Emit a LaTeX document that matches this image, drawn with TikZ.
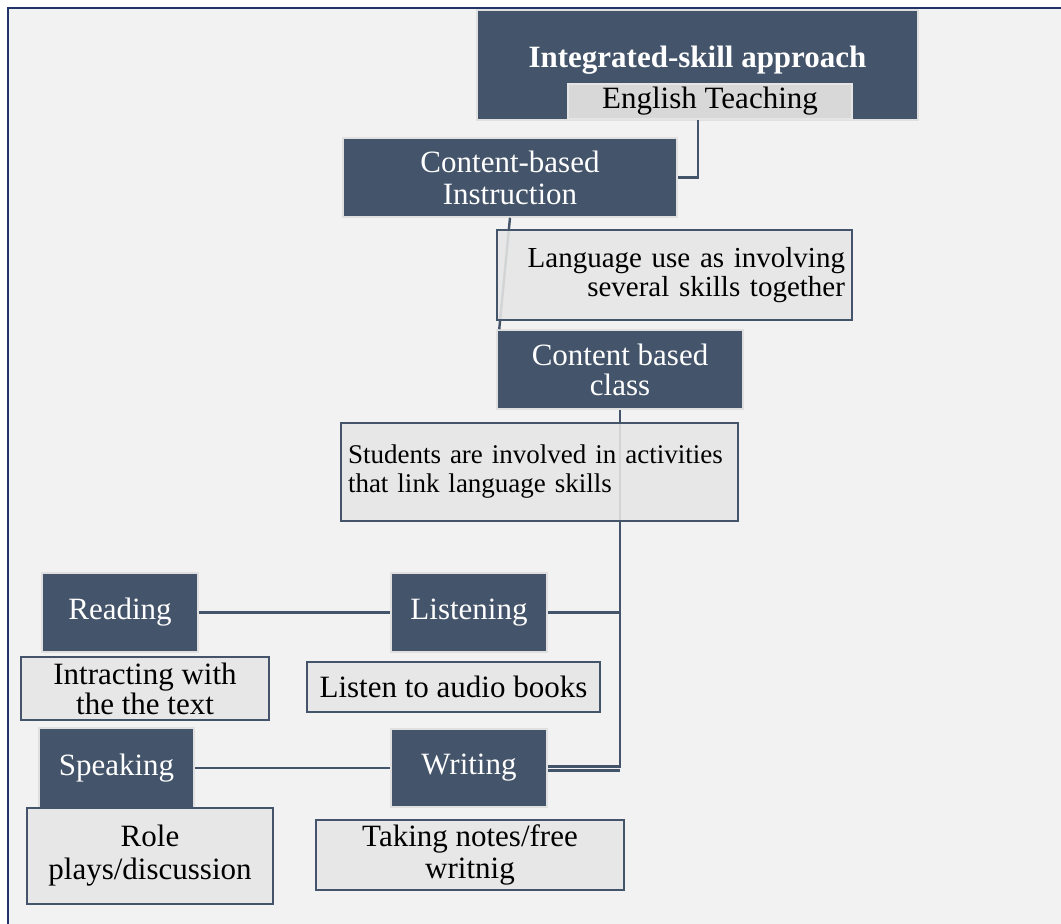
\documentclass[tikz,border=0pt]{standalone}
\usepackage{fontspec}
\setmainfont{Liberation Serif}
\definecolor{slate}{RGB}{68,84,106}
\definecolor{paper}{RGB}{242,242,242}
\definecolor{panel}{RGB}{230,230,230}
\definecolor{tag}{RGB}{216,216,216}
\definecolor{navy}{RGB}{31,52,104}
\tikzset{
  darkbox/.style={draw=black!12, line width=1.5pt, fill=slate, text=white,
    inner sep=0pt, align=center, font=\fontsize{31}{32}\selectfont},
  lightbox/.style={draw=slate, line width=1.8pt, fill=panel, fill opacity=0.88,
    text opacity=1, text=black, inner sep=0pt, align=center,
    font=\fontsize{31}{32}\selectfont},
  link/.style={draw=slate, line width=2.4pt},
  box/.style n args={2}{minimum width=#1pt, minimum height=#2pt}
}
\begin{document}
\begin{tikzpicture}[x=1pt,y=-1pt]
  % page and its framed panel
  \useasboundingbox (0,0) rectangle (1061,924);
  \fill[white] (0,0) rectangle (1061,924);
  \fill[paper] (8,8) rectangle (1061,924);
  \draw[navy, line width=2.2pt] (1061,8) -- (8,8) -- (8,924);

  % heading
  \node[darkbox, box={441}{110}] (ita) at (697.5,65)
    {\raisebox{16pt}{\textbf{Integrated-skill approach}}};
  \node[draw=black!10, line width=1.5pt, fill=tag, inner sep=0pt,
    font=\fontsize{31}{31}\selectfont, box={284}{35}] (et) at (710,101.5) {English Teaching};

  % first level
  \node[darkbox, box={334}{79}] (cbi) at (510,177.5) {Content-based\\Instruction};
  \draw[link] ([xshift=-12pt]et.south) |- (cbi.east);

  \node[darkbox, box={246}{79}, font=\fontsize{31}{30}\selectfont] (cbc) at (620,369.5)
    {Content based\\class};
  \draw[link] (cbi.south) -- ([xshift=3pt]cbc.north west);
  \node[lightbox, box={355}{90}, align=right, text width=341pt,
    font=\fontsize{29}{29}\selectfont] (lang) at (674.5,275)
    {Language use as involving\\several skills together};

  % trunk down to the four skills
  \coordinate (trunk) at (cbc.south);
  \node[darkbox, box={156}{79}] (lis) at (469,612.5) {Listening};
  \node[darkbox, box={156}{78}] (wri) at (469,768) {Writing};
  \draw[link] (trunk) |- ([yshift=1.5pt]wri.east);
  \draw[link] ([yshift=-2.5pt]wri.east) -- ([yshift=-2.5pt]wri.east -| trunk);
  \draw[link] (lis.east) -- (lis.east -| trunk);
  \node[lightbox, box={397}{98}, align=left, text width=383pt,
    font=\fontsize{27}{29}\selectfont] (stu) at (539.5,472)
    {Students are involved in activities\\that link language skills};

  % skills
  \node[darkbox, box={156}{79}] (rea) at (120,612.5) {Reading};
  \node[darkbox, box={155}{80}] (spk) at (116.5,768) {Speaking};
  \draw[link] (rea.east) -- (lis.west);
  \draw[link] (spk.east) -- (wri.west);

  % activities
  \node[lightbox, box={248}{63}, font=\fontsize{31}{30}\selectfont] (rea-act) at (145,688.5)
    {Intracting with\\the the text};
  \node[lightbox, box={293}{50}] (lis-act) at (453.5,687) {Listen to audio books};
  \node[lightbox, box={246}{96}, font=\fontsize{31}{33}\selectfont] (spk-act) at (150,856)
    {Role\\plays/discussion};
  \node[lightbox, box={308}{70}] (wri-act) at (470,855) {Taking notes/free\\writnig};
\end{tikzpicture}
\end{document}
